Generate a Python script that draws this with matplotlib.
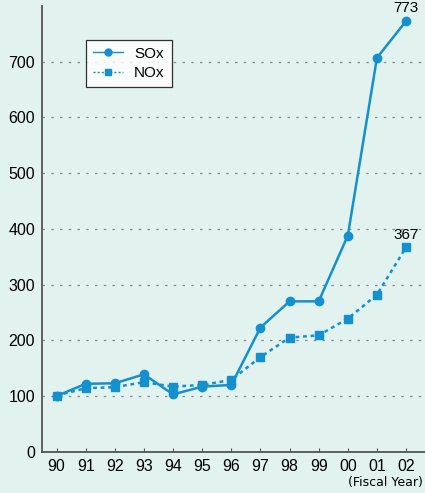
import numpy as np
import matplotlib.pyplot as plt

plt.rcParams['font.family'] = ['Liberation Sans', 'DejaVu Sans']

years = ['90', '91', '92', '93', '94', '95', '96', '97', '98', '99', '00', '01', '02']
sox = [100, 122, 123, 139, 103, 117, 120, 223, 270, 270, 388, 707, 773]
nox = [101, 114, 116, 125, 117, 120, 129, 170, 205, 209, 239, 282, 367]

bg = '#e2f2ee'
blue = '#1590cf'

fig = plt.figure(figsize=(4.25, 4.93), dpi=100)
fig.patch.set_facecolor(bg)
ax = fig.add_axes([42 / 425, 41.2 / 493, 1 - 42 / 425, (451.8 - 6) / 493])
ax.set_facecolor(bg)

x = np.arange(len(years))
ax.plot(x, sox, color=blue, lw=1.8, marker='o', ms=6, label='SOx')
ax.plot(x, nox, color=blue, lw=1.8, ls=(0, (1.5, 1.5)), marker='s', ms=6, label='NOx')

# end values
ax.annotate(str(sox[-1]), (x[-1], sox[-1]), xytext=(0, 4), textcoords='offset points',
            ha='center', va='bottom', fontsize=11)
ax.annotate(str(nox[-1]), (x[-1], nox[-1]), xytext=(0, 4), textcoords='offset points',
            ha='center', va='bottom', fontsize=11)

ax.set_xlim(-0.5, 12.65)
ax.set_ylim(0, 800)
ax.set_yticks(range(0, 800, 100))
ax.set_xticks(x)
ax.set_xticklabels(years)
ax.tick_params(axis='x', direction='in', length=3, width=0.8, color='#555555', labelsize=11.5, pad=5)
ax.tick_params(axis='y', length=0, labelsize=11.5, pad=5)
for y in range(100, 800, 100):
    ax.axhline(y, color='#888888', lw=0.9, ls=(0, (2, 5)), zorder=0)

for s in ['top', 'right']:
    ax.spines[s].set_visible(False)
for s in ['left', 'bottom']:
    ax.spines[s].set_color('#555555')
    ax.spines[s].set_linewidth(1.3)

leg = ax.legend(loc='upper left', bbox_to_anchor=(0.115, 0.924), borderaxespad=0,
                fontsize=11, frameon=True, fancybox=False, handlelength=2.0,
                borderpad=0.45, labelspacing=0.35, handletextpad=0.7)
leg.get_frame().set_edgecolor('black')
leg.get_frame().set_linewidth(0.9)
for h in leg.legend_handles:
    h.set_markersize(5)
    h.set_linewidth(1)

fig.text(0.996, 0.021, '(Fiscal Year)', ha='right', va='center', fontsize=9,
         family=['Liberation Sans Narrow', 'DejaVu Sans'])

fig.savefig('out.png', dpi=100, facecolor=bg)
